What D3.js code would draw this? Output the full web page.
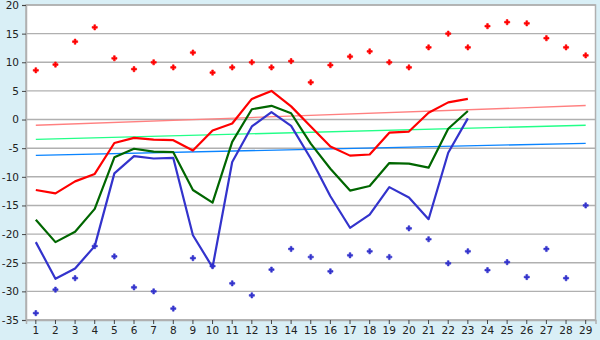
<!DOCTYPE html>
<html>
<head>
<meta charset="utf-8">
<script src="https://cdn.jsdelivr.net/npm/d3@7"></script>
<style>
  html, body { margin: 0; padding: 0; background: #d9eff6; }
  svg { display: block; }
  text { font-family: "DejaVu Sans", Verdana, sans-serif; font-size: 10px; fill: #222; }
</style>
</head>
<body>
<svg id="chart" width="600" height="340"></svg>
<script>
// Days of the month shown on the x axis
const days = d3.range(1, 30);

// Daily temperature curves (days 1–23)
const maxTemp = [-12.3, -12.9, -10.8, -9.5, -4.1, -3.2, -3.5, -3.6, -5.4, -1.9,
                 -0.7, 3.6, 5.0, 2.3, -1.2, -4.7, -6.3, -6.1, -2.3, -2.1,
                 1.2, 3.0, 3.6];
const meanTemp = [-17.5, -21.4, -19.6, -15.6, -6.6, -5.1, -5.6, -5.7, -12.3, -14.5,
                  -3.9, 1.8, 2.4, 1.1, -4.2, -8.6, -12.4, -11.6, -7.6, -7.7,
                  -8.4, -1.6, 1.5];
const minTemp = [-21.4, -27.8, -26.0, -22.1, -9.4, -6.4, -6.8, -6.7, -20.2, -25.8,
                 -7.4, -1.2, 1.3, -1.1, -6.8, -13.4, -18.9, -16.6, -11.8, -13.6,
                 -17.4, -5.8, 0.2];

// Record highs and lows for each day (1–29)
const recordHigh = [8.6, 9.6, 13.6, 16.1, 10.7, 8.8, 10.0, 9.1, 11.7, 8.2,
                    9.1, 10.0, 9.1, 10.2, 6.5, 9.5, 11.0, 11.9, 10.0, 9.1,
                    12.6, 15.0, 12.6, 16.3, 17.0, 16.8, 14.2, 12.6, 11.2];
const recordLow = [-33.8, -29.7, -27.7, -22.1, -23.9, -29.3, -30.0, -33.0, -24.2, -25.6,
                   -28.6, -30.7, -26.2, -22.6, -24.0, -26.5, -23.7, -23.0, -24.0, -19.0,
                   -20.9, -25.1, -23.0, -26.3, -24.9, -27.5, -22.6, -27.7, -15.0];

// Normal max / mean / min, values on day 1 and day 29
const normalMax = [-1.0, 2.45];
const normalMean = [-3.46, -1.0];
const normalMin = [-6.25, -4.15];

const yTicks = [20, 15, 10, 5, 0, -5, -10, -15, -20, -25, -30, -35];

const svg = d3.select("#chart");
const plotLeft = 26, plotRight = 595.5, plotTop = 5, plotBottom = 320;

const x = d3.scaleBand().domain(days).range([plotLeft, plotRight]);
const cx = d => x(d) + x.bandwidth() / 2;
const y = d3.scaleLinear().domain([-35, 20]).range([plotBottom, plotTop]);

// plot background
svg.append("rect")
  .attr("x", plotLeft).attr("y", plotTop)
  .attr("width", plotRight - plotLeft).attr("height", plotBottom - plotTop)
  .attr("fill", "#fff");

// horizontal grid
svg.append("g")
  .selectAll("line")
  .data(yTicks)
  .join("line")
  .attr("x1", plotLeft).attr("x2", plotRight)
  .attr("y1", d => y(d)).attr("y2", d => y(d))
  .attr("stroke", "#b0b0b0").attr("stroke-width", 1.4);

// frame
svg.append("rect")
  .attr("x", plotLeft).attr("y", plotTop)
  .attr("width", plotRight - plotLeft).attr("height", plotBottom - plotTop)
  .attr("fill", "none").attr("stroke", "#b0b0b0").attr("stroke-width", 1.5);

// y axis
const yAxis = svg.append("g")
  .attr("transform", `translate(${plotLeft},0)`)
  .call(d3.axisLeft(y).tickValues(yTicks).tickSize(4).tickPadding(3)
        .tickFormat(d => String(d)));
yAxis.select(".domain").attr("stroke", "#b0b0b0").attr("stroke-width", 1.5);
yAxis.selectAll(".tick line").attr("stroke", "#444");
yAxis.selectAll("text").style("font-size", "10.5px").attr("fill", "#222");

// x axis
const xAxis = svg.append("g")
  .attr("transform", `translate(0,${plotBottom})`)
  .call(d3.axisBottom(x).tickSize(4).tickPadding(3));
xAxis.select(".domain").attr("stroke", "#b0b0b0").attr("stroke-width", 1.5);
xAxis.selectAll(".tick line").attr("stroke", "#444");
xAxis.selectAll("text").style("font-size", "10.5px").attr("fill", "#222");

// normal lines
const normals = [
  { vals: normalMax, color: "#ff8080" },
  { vals: normalMean, color: "#22ff88" },
  { vals: normalMin, color: "#0a84ff" }
];
svg.append("g")
  .selectAll("line")
  .data(normals)
  .join("line")
  .attr("x1", cx(days[0])).attr("x2", cx(days[days.length - 1]))
  .attr("y1", d => y(d.vals[0])).attr("y2", d => y(d.vals[1]))
  .attr("stroke", d => d.color).attr("stroke-width", 1.3);

// daily curves
const line = d3.line().x((d, i) => cx(days[i])).y(d => y(d));
const curves = [
  { vals: maxTemp, color: "#ff0000" },
  { vals: meanTemp, color: "#006600" },
  { vals: minTemp, color: "#3333cc" }
];
svg.append("g")
  .selectAll("path")
  .data(curves)
  .join("path")
  .attr("d", d => line(d.vals))
  .attr("fill", "none")
  .attr("stroke", d => d.color)
  .attr("stroke-width", 2.2)
  .attr("stroke-linejoin", "round");

// record markers
const sym = d3.symbol().type(d3.symbolCross).size(15);
const records = [
  { vals: recordHigh, color: "#ff0000" },
  { vals: recordLow, color: "#3333cc" }
];
records.forEach(r => {
  svg.append("g")
    .selectAll("path")
    .data(r.vals)
    .join("path")
    .attr("transform", (d, i) => `translate(${cx(days[i])},${y(d)})`)
    .attr("d", sym)
    .attr("fill", r.color)
    .attr("stroke", r.color)
    .attr("stroke-width", 0.6);
});
</script>
</body>
</html>
